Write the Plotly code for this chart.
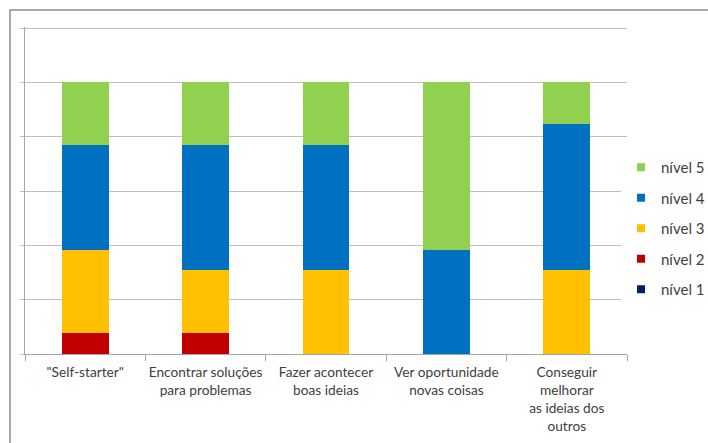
import plotly.graph_objects as go

# Survey answers per competence (number of respondents per level)
categories = [
    '"Self-starter"',
    "Encontrar soluções<br>para problemas",
    "Fazer acontecer<br>boas ideias",
    "Ver oportunidade<br>novas coisas",
    "Conseguir<br>melhorar<br>as ideias dos<br>outros",
]
levels = ["nível 1", "nível 2", "nível 3", "nível 4", "nível 5"]
nivel_1 = [0, 0, 0, 0, 0]
nivel_2 = [1, 1, 0, 0, 0]
nivel_3 = [4, 3, 4, 0, 4]
nivel_4 = [5, 6, 6, 5, 7]
nivel_5 = [3, 3, 3, 8, 2]
colors = ["#002060", "#C00000", "#FFC000", "#0070C0", "#92D050"]

W, H = 708, 443
L, R, T, B = 25, 81, 27, 89
Y_TOP = 120.4

fig = go.Figure()
for name, vals, col in zip(levels, [nivel_1, nivel_2, nivel_3, nivel_4, nivel_5], colors):
    fig.add_trace(go.Bar(
        x=categories, y=vals, name=name, marker=dict(color=col, line=dict(width=0)),
        showlegend=False,
    ))
# legend keys: small square swatches, highest level listed first
for name, col in zip(levels[::-1], colors[::-1]):
    fig.add_trace(go.Scatter(
        x=[None], y=[None], mode="markers", name=name, legendgroup=name,
        marker=dict(symbol="square", size=8, color=col),
    ))

pw, ph = W - L - R, H - T - B
# outer chart frame
fig.add_shape(
    type="rect", xref="paper", yref="paper",
    x0=(10 - L) / pw, x1=(W + 5 - L) / pw,
    y0=(H - B - (H + 5)) / ph, y1=(H - B - 10) / ph,
    line=dict(color="#8C8C8C", width=1.5), fillcolor="rgba(0,0,0,0)", layer="below",
)

fig.update_layout(
    width=W, height=H,
    margin=dict(l=L, r=R, t=T, b=B, autoexpand=False),
    barmode="stack", barnorm="percent", bargap=0.61,
    paper_bgcolor="white", plot_bgcolor="white",
    font=dict(family="Lato, Liberation Sans, sans-serif", size=13.7, color="#404040"),
    legend=dict(
        x=1.0 - 6 / pw, xanchor="left", y=(H - B - 228.5) / ph, yanchor="middle",
        traceorder="grouped", tracegroupgap=8,
        font=dict(size=15, color="#404040"),
        itemwidth=30,
    ),
    showlegend=True,
)
fig.update_xaxes(
    showline=True, linecolor="#A6A6A6", linewidth=1,
    ticks="outside", ticklen=6, tickcolor="#A6A6A6", tickson="boundaries",
    showgrid=False, tickangle=0, ticklabelstandoff=6,
)
fig.update_yaxes(
    range=[0, Y_TOP], dtick=20, showticklabels=False,
    showgrid=True, gridcolor="#BFBFBF", gridwidth=1,
    showline=True, linecolor="#A6A6A6", linewidth=1,
    ticks="outside", ticklen=4, tickcolor="#BFBFBF", zeroline=False,
)

fig.write_html("out.html")
